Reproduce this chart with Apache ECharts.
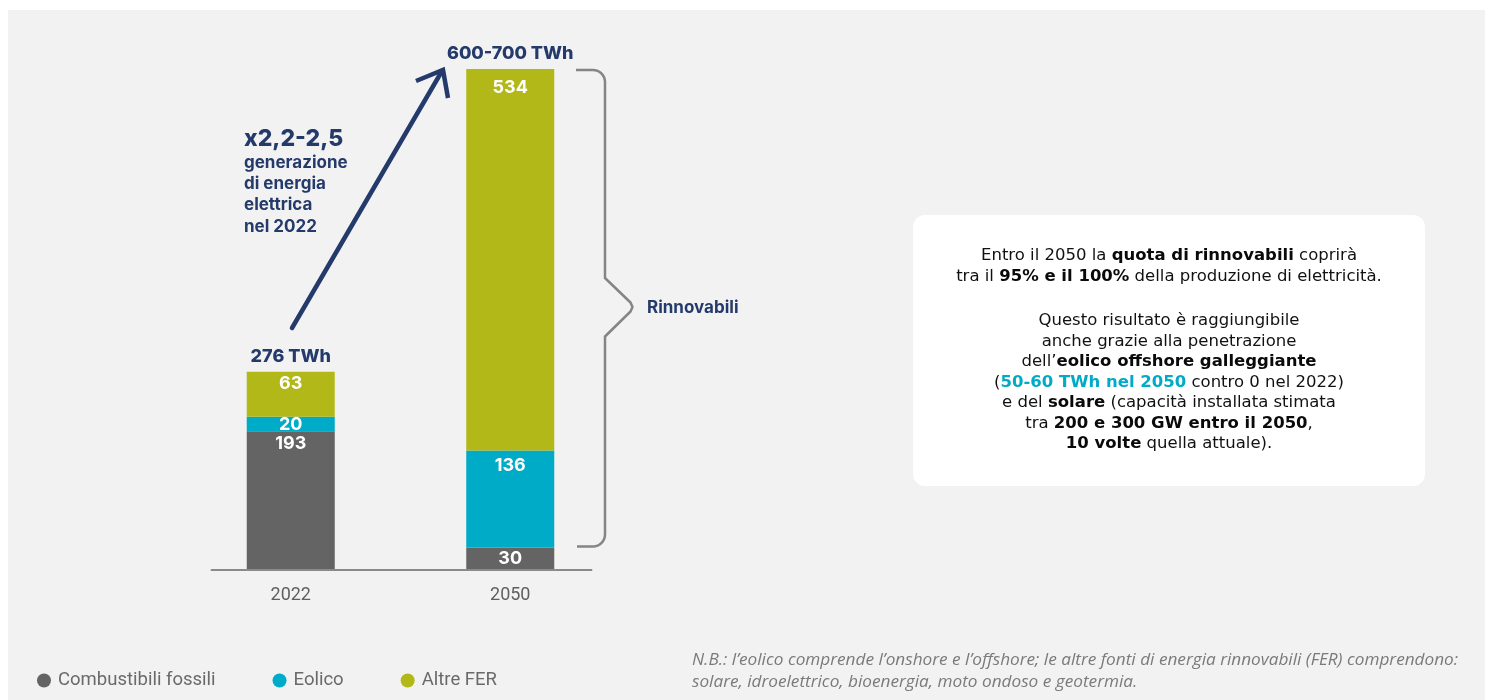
<!DOCTYPE html>
<html>
<head>
<meta charset="utf-8">
<script src="https://cdn.jsdelivr.net/npm/echarts@6/dist/echarts.min.js"></script>
<style>
html,body{margin:0;padding:0;background:#fff;}
#c{width:1485px;height:700px;}
</style>
</head>
<body>
<div id="c"></div>
<script>
const categories = ['2022', '2050'];
const fossili = [193, 30];
const eolico = [20, 136];
const altreFER = [63, 534];
const totalLabels = ['276 TWh', '600-700 TWh'];
const seriesNames = ['Combustibili fossili', 'Eolico', 'Altre FER'];

const NAVY = '#243a6b';
const GRAY = '#646464';
const CYAN = '#00abc7';
const OLIVE = '#b1b818';
const BOLD = 'Inter, "Noto Sans", sans-serif';
const BOXF = '"DejaVu Sans", "Noto Sans", sans-serif';

const chart = echarts.init(document.getElementById('c'));

function barLabel(pos, dist) {
  return { show: true, position: pos, distance: dist, color: '#fff', fontSize: 18, fontWeight: 'bold', fontFamily: BOLD };
}

const option = {
  backgroundColor: '#ffffff',
  animation: false,
  grid: { left: 181, right: 865, top: 69, bottom: 131 },
  xAxis: {
    type: 'category',
    data: categories,
    axisLine: { show: false },
    axisTick: { show: false },
    axisLabel: { color: '#5f5f5f', fontSize: 18, fontFamily: 'Roboto, sans-serif', margin: 17 }
  },
  yAxis: { type: 'value', min: 0, max: 700, show: false, splitLine: { show: false } },
  legend: {
    data: seriesNames,
    left: 32,
    top: 666,
    icon: 'circle',
    itemWidth: 14,
    itemHeight: 14,
    itemGap: 57,
    textStyle: { color: '#6a6a6a', fontSize: 18.5, fontFamily: 'Roboto, sans-serif', padding: [0, 0, 0, 2] }
  },
  series: [
    {
      name: seriesNames[0], type: 'bar', stack: 't', barWidth: 88,
      itemStyle: { color: GRAY },
      data: fossili.map((v, i) => ({ value: v, label: i === 1 ? barLabel('inside', 0) : barLabel('insideTop', 3) }))
    },
    {
      name: seriesNames[1], type: 'bar', stack: 't', barWidth: 88,
      itemStyle: { color: CYAN },
      data: eolico.map((v, i) => ({ value: v, label: i === 0 ? barLabel('insideTop', -1) : barLabel('insideTop', 6) }))
    },
    {
      name: seriesNames[2], type: 'bar', stack: 't', barWidth: 88,
      itemStyle: { color: OLIVE },
      data: altreFER.map((v, i) => ({ value: v, label: barLabel('insideTop', i === 0 ? 3 : 10) }))
    },
    {
      name: 'Totale', type: 'bar', stack: 't', barWidth: 88,
      itemStyle: { color: 'transparent' },
      data: totalLabels.map(() => 0),
      label: {
        show: true, position: 'top', distance: 6,
        color: NAVY, fontSize: 18, fontWeight: 800, fontFamily: BOLD,
        formatter: p => totalLabels[p.dataIndex]
      }
    }
  ]
};
chart.setOption(option);

const c0 = chart.convertToPixel({ xAxisIndex: 0 }, categories[0]);
const c1 = chart.convertToPixel({ xAxisIndex: 0 }, categories[1]);
const y0 = chart.convertToPixel({ yAxisIndex: 0 }, 0);

function arcPts(cx, cy, r, a0, a1, n) {
  const pts = [];
  for (let k = 0; k <= n; k++) {
    const a = a0 + (a1 - a0) * k / n;
    pts.push([cx + r * Math.cos(a), cy + r * Math.sin(a)]);
  }
  return pts;
}
const R = 12;
const bx = 605;
const bracketPts = [[576, 70]]
  .concat(arcPts(bx - R, 70 + R, R, -Math.PI / 2, 0, 8))
  .concat([[bx, 278], [630.5, 302.5], [632.5, 307], [630.5, 311.5], [bx, 336.5]])
  .concat(arcPts(bx - R, 546.5 - R, R, 0, Math.PI / 2, 8))
  .concat([[577, 546.5]]);

const FM = 'normal 16.5px ' + BOXF;
const FB = 'bold 16.5px ' + BOXF;
const boxLines = [
  [['Entro il 2050 la ', 'm'], ['quota di rinnovabili', 'b'], [' coprirà', 'm']],
  [['tra il ', 'm'], ['95% e il 100%', 'b'], [' della produzione di elettricità.', 'm']],
  null,
  [['Questo risultato è raggiungibile', 'm']],
  [['anche grazie alla penetrazione', 'm']],
  [['dell’', 'm'], ['eolico offshore galleggiante', 'b']],
  [['(', 'm'], ['50-60 TWh nel 2050', 'c'], [' contro 0 nel 2022)', 'm']],
  [['e del ', 'm'], ['solare', 'b'], [' (capacità installata stimata', 'm']],
  [['tra ', 'm'], ['200 e 300 GW entro il 2050', 'b'], [',', 'm']],
  [['10 volte', 'b'], [' quella attuale).', 'm']]
];
const lineYs = [256, 276.5, null, 321, 341.5, 362, 382.5, 403, 423.5, 444];
const mctx = document.createElement('canvas').getContext('2d');
const segStyle = { m: [FM, '#111111'], b: [FB, '#0a0a0a'], c: [FB, CYAN] };
const boxTexts = [];
boxLines.forEach((line, li) => {
  if (!line) return;
  const widths = line.map(([t, s]) => { mctx.font = segStyle[s][0]; return mctx.measureText(t).width; });
  const total = widths.reduce((a, b) => a + b, 0);
  let x = 1169 - total / 2;
  line.forEach(([t, s], k) => {
    boxTexts.push({ type: 'text', z: 5, style: { x: x, y: lineYs[li], text: t, font: segStyle[s][0], fill: segStyle[s][1], textAlign: 'left', textVerticalAlign: 'middle' } });
    x += widths[k];
  });
});

chart.setOption({
  graphic: [
    { type: 'rect', z: -10, silent: true, shape: { x: 8, y: 10, width: 1477, height: 690 }, style: { fill: '#f2f2f2' } },
    { type: 'line', z: 1, shape: { x1: c0 - 80, y1: y0 + 1, x2: c1 + 82, y2: y0 + 1 }, style: { stroke: '#8a8a8a', lineWidth: 2 } },
    { type: 'polyline', shape: { points: [[292, 328], [442, 71]] }, style: { stroke: NAVY, lineWidth: 4.5, lineCap: 'round' } },
    { type: 'polyline', shape: { points: [[416, 81], [443, 70], [448, 98]] }, style: { stroke: NAVY, lineWidth: 4.5, lineCap: 'butt', lineJoin: 'miter' } },
    { type: 'text', style: { x: 244, y: 128, text: 'x2,2-2,5', fill: NAVY, font: '800 23px ' + BOLD, textVerticalAlign: 'top' } },
    { type: 'text', style: { x: 244, y: 152, text: 'generazione\ndi energia\nelettrica\nnel 2022', fill: NAVY, font: '700 17px ' + BOLD, lineHeight: 21.3, textVerticalAlign: 'top' } },
    { type: 'polyline', shape: { points: bracketPts }, style: { stroke: '#858585', lineWidth: 2.5, lineJoin: 'round' } },
    { type: 'text', style: { x: 647, y: 308, text: 'Rinnovabili', fill: NAVY, font: '700 17px ' + BOLD, textVerticalAlign: 'middle' } },
    { type: 'rect', z: -5, shape: { x: 913, y: 215, width: 512, height: 271, r: 12 }, style: { fill: '#ffffff' } },
    { type: 'text', style: { x: 692, y: 649, text: 'N.B.: l’eolico comprende l’onshore e l’offshore; le altre fonti di energia rinnovabili (FER) comprendono:\nsolare, idroelettrico, bioenergia, moto ondoso e geotermia.', fill: '#7a7a7a', font: 'italic 17.2px "Open Sans", sans-serif', lineHeight: 22, textVerticalAlign: 'top' } }
  ].concat(boxTexts)
});
</script>
</body>
</html>
